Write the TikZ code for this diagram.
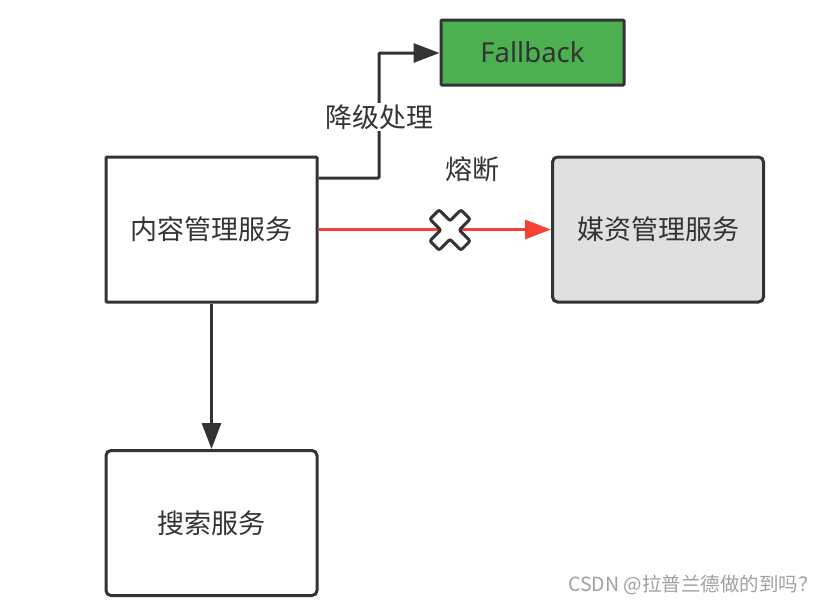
\documentclass[tikz,border=0pt]{standalone}
\usepackage{fontspec}
\setmainfont{Noto Sans}
\newfontfamily\cjk{Noto Sans CJK SC}
\usetikzlibrary{arrows.meta}
\definecolor{ink}{HTML}{333333}
\definecolor{fbgreen}{HTML}{4CAF50}
\definecolor{mediagray}{HTML}{E0E0E0}
\definecolor{cutred}{HTML}{F44336}
\definecolor{wm}{HTML}{A0A0A0}
\tikzset{
  box/.style={draw=ink, line width=3pt, minimum width=211pt, minimum height=145pt, inner sep=0pt, font=\cjk\fontsize{27}{30}\selectfont, text=ink},
  tip/.style={-{Triangle[length=26pt,width=19pt]}},
  conn/.style={draw=ink, line width=3pt, tip},
  lbl/.style={font=\cjk\fontsize{27}{30}\selectfont, text=ink, inner sep=2pt}
}
\begin{document}
\begin{tikzpicture}[x=1pt,y=-1pt]
\useasboundingbox (0,0) rectangle (824,606);
\node[box, rounded corners=1pt, fill=white] (content) at (211.5,229.5) {内容管理服务};
\node[box, rounded corners=5pt, fill=mediagray] (media) at (658,229.5) {媒资管理服务};
\node[box, rounded corners=5pt, fill=white] (search) at (211.5,523) {搜索服务};
\node[draw=ink, line width=3pt, fill=fbgreen, minimum width=183pt, minimum height=65pt, rounded corners=1pt, inner sep=0pt, font=\fontsize{27.5}{30}\selectfont, text=ink] (fb) at (532.5,52.5) {Fallback};
\coordinate (c1) at (379,178);
\coordinate (c2) at (379,53);
\draw[conn, rounded corners=1pt] (content.east |- c1) -- (c1) -- (c2) -- (fb.west |- c2);
\node[lbl, fill=white] (degrade) at (379,117) {降级处理};
\draw[draw=cutred, line width=3pt, tip, fill=cutred] (content.east) -- (media.west);
\node[lbl] (fuse) at (472,169) {熔断};
\draw[conn] (content.south) -- (search.north);
\begin{scope}[shift={(450,230)}, rotate=45]
\draw[draw=ink, fill=white, line width=3pt, rounded corners=2pt]
  (6.5,6.5) -- (22,6.5) -- (22,-6.5) -- (6.5,-6.5) -- (6.5,-22) -- (-6.5,-22) -- (-6.5,-6.5) -- (-22,-6.5) -- (-22,6.5) -- (-6.5,6.5) -- (-6.5,22) -- (6.5,22) -- cycle;
\end{scope}
\node[font=\cjk\fontsize{19.5}{24}\selectfont, text=wm, anchor=east, inner sep=0pt] (watermark) at (818,585) {CSDN @拉普兰德做的到吗？};
\end{tikzpicture}
\end{document}
